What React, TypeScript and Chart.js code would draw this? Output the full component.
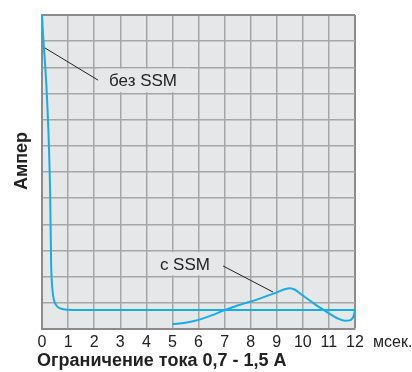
import React, { useEffect, useRef } from "react";
import { Chart, registerables } from "chart.js";

Chart.register(...registerables);

// ---- data ----
const xTicks = [0, 1, 2, 3, 4, 5, 6, 7, 8, 9, 10, 11, 12];
const noSsmX = [0, 0.31, 0.35, 0.4, 0.46, 0.55, 0.7, 0.95, 1.5, 12];
const noSsmY = [12, 5.3, 2.5, 1.5, 1.1, 0.9, 0.79, 0.74, 0.73, 0.73];
const ssmX = [5, 5.5, 6, 6.5, 7, 7.5, 8, 8.5, 9, 9.3, 9.5, 9.7, 10, 10.5, 11, 11.3, 11.6, 11.8, 11.95, 12];
const ssmY = [0.19, 0.24, 0.35, 0.52, 0.72, 0.9, 1.05, 1.22, 1.4, 1.52, 1.56, 1.5, 1.28, 0.92, 0.6, 0.42, 0.32, 0.33, 0.5, 0.73];
const labelNoSsm = "без SSM";
const labelSsm = "с SSM";
const xUnit = "мсек.";
const xTitle = "Ограничение тока 0,7 - 1,5 A";
const yTitle = "Ампер";

const FONT = "'Liberation Sans', Arial, sans-serif";
const LINE = "#14ade8";
const PLOT_BG = "#e6e7e9";
const GRID = "#a6a6a6";
const EDGE = "#8c8c8c";

const annotations = {
  id: "annotations",
  beforeDraw(chart: any) {
    const { ctx, chartArea } = chart;
    ctx.save();
    ctx.fillStyle = PLOT_BG;
    ctx.fillRect(chartArea.left, chartArea.top, chartArea.right - chartArea.left, chartArea.bottom - chartArea.top);
    ctx.restore();
  },
  beforeDatasetsDraw(chart: any) {
    const { ctx } = chart;
    const xs = chart.scales.x;
    const ys = chart.scales.y;
    ctx.save();
    ctx.fillStyle = PLOT_BG;
    const box = (x0: number, x1: number, y0: number, y1: number) => {
      const px0 = xs.getPixelForValue(x0);
      const px1 = xs.getPixelForValue(x1);
      const py0 = ys.getPixelForValue(y0);
      const py1 = ys.getPixelForValue(y1);
      ctx.fillRect(px0, py0, px1 - px0, py1 - py0);
    };
    box(2.19, 5.67, 9.95, 9.05);
    box(4.14, 6.75, 2.94, 2.05);
    ctx.restore();
  },
  afterDraw(chart: any) {
    const { ctx, chartArea } = chart;
    const xs = chart.scales.x;
    const ys = chart.scales.y;
    const px = (v: number) => xs.getPixelForValue(v);
    const py = (v: number) => ys.getPixelForValue(v);
    ctx.save();
    // leader lines
    ctx.strokeStyle = "#222";
    ctx.lineWidth = 1;
    ctx.beginPath();
    ctx.moveTo(px(0.115), py(10.74));
    ctx.lineTo(px(2.15), py(9.51));
    ctx.moveTo(px(6.94), py(2.41));
    ctx.lineTo(px(8.86), py(1.41));
    ctx.stroke();
    // labels
    ctx.fillStyle = "#222";
    ctx.font = `17px ${FONT}`;
    ctx.textBaseline = "middle";
    ctx.textAlign = "left";
    ctx.fillText(labelNoSsm, px(2.57), py(9.48));
    ctx.fillText(labelSsm, px(4.52), py(2.45));
    // unit
    ctx.font = `16px ${FONT}`;
    ctx.fillText(xUnit, px(12) + 18, chartArea.bottom + 14);
    // x title
    ctx.font = `bold 18px ${FONT}`;
    ctx.fillText(xTitle, chartArea.left - 5, chartArea.bottom + 32);
    // y title
    ctx.translate(22, chartArea.top + 146);
    ctx.rotate(-Math.PI / 2);
    ctx.textAlign = "center";
    ctx.fillText(yTitle, 0, 0);
    ctx.restore();
  },
};

const edgeColor = (c: any) => (c.tick && c.tick.value === 12 ? EDGE : GRID);
const edgeWidth = (c: any) => (c.tick && c.tick.value === 12 ? 2 : 1.5);

export default function App() {
  const ref = useRef<HTMLCanvasElement>(null);
  useEffect(() => {
    const canvas = ref.current;
    if (!canvas) return;
    const chart = new Chart(canvas, {
      type: "line",
      data: {
        datasets: [
          {
            label: labelNoSsm,
            data: noSsmX.map((x, i) => ({ x, y: noSsmY[i] })),
            borderColor: LINE,
            borderWidth: 2,
            pointRadius: 0,
            cubicInterpolationMode: "monotone",
            fill: false,
          },
          {
            label: labelSsm,
            data: ssmX.map((x, i) => ({ x, y: ssmY[i] })),
            borderColor: LINE,
            borderWidth: 2,
            pointRadius: 0,
            cubicInterpolationMode: "monotone",
            fill: false,
          },
        ],
      },
      plugins: [annotations],
      options: {
        animation: false,
        responsive: false,
        devicePixelRatio: 1,
        layout: { padding: { left: 0, top: 15, right: 57, bottom: 0 } },
        plugins: { legend: { display: false }, tooltip: { enabled: false } },
        scales: {
          x: {
            type: "linear",
            min: 0,
            max: 12,
            afterBuildTicks: (s: any) => {
              s.ticks = xTicks.map((v) => ({ value: v }));
            },
            ticks: {
              font: { family: FONT, size: 16 },
              color: "#222",
              padding: 4,
              maxRotation: 0,
              autoSkip: false,
            },
            grid: { color: edgeColor, lineWidth: edgeWidth, drawTicks: false },
            border: { color: EDGE, width: 2 },
            afterFit: (s: any) => {
              s.height = 43;
            },
          },
          y: {
            type: "linear",
            min: 0,
            max: 12,
            ticks: { stepSize: 1, display: false },
            grid: { color: edgeColor, lineWidth: edgeWidth, drawTicks: false },
            border: { color: EDGE, width: 2 },
            afterFit: (s: any) => {
              s.width = 42;
            },
          },
        },
      },
    } as any);
    return () => chart.destroy();
  }, []);
  return (
    <div style={{ position: "fixed", left: 0, top: 0, width: 412, height: 372, background: "#fff" }}>
      <canvas ref={ref} width={412} height={372} style={{ display: "block" }} />
    </div>
  );
}
